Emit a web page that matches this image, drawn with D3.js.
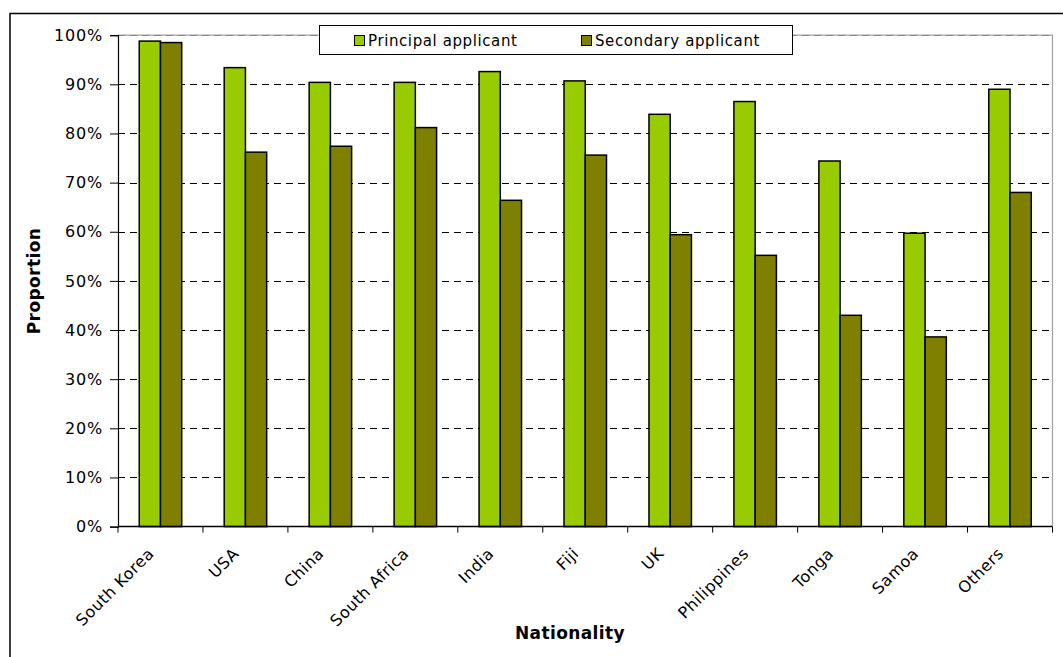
<!DOCTYPE html>
<html>
<head>
<meta charset="utf-8">
<script src="https://cdn.jsdelivr.net/npm/d3@7"></script>
<style>
  html, body { margin: 0; padding: 0; background: #fff; }
  svg { display: block; }
  text { font-family: "DejaVu Sans", Verdana, sans-serif; fill: #000; }
</style>
</head>
<body>
<svg id="chart" width="1063" height="657"></svg>
<script>
// Share of applicants by nationality, principal vs secondary
const nationalities = ["South Korea", "USA", "China", "South Africa", "India", "Fiji", "UK", "Philippines", "Tonga", "Samoa", "Others"];
const principal = [0.988, 0.934, 0.904, 0.904, 0.926, 0.907, 0.839, 0.865, 0.744, 0.597, 0.890];
const secondary = [0.985, 0.762, 0.774, 0.812, 0.664, 0.756, 0.594, 0.552, 0.430, 0.386, 0.680];
const seriesNames = ["Principal applicant", "Secondary applicant"];
const seriesColors = ["#99CC00", "#808000"];
const yTicks = [0, 0.1, 0.2, 0.3, 0.4, 0.5, 0.6, 0.7, 0.8, 0.9, 1.0];

const svg = d3.select("#chart");
const plot = { left: 118, right: 1052.5, top: 35.2, bottom: 526.6 };

const x = d3.scaleBand().domain(nationalities).range([plot.left, plot.right]).padding(0);
const y = d3.scaleLinear().domain([0, 1]).range([plot.bottom, plot.top]);
const bw = x.bandwidth();

// outer chart frame
svg.append("rect")
  .attr("x", 10).attr("y", 13.5).attr("width", 1060).attr("height", 700)
  .attr("fill", "none").attr("stroke", "#000").attr("stroke-width", 1.5);

// plot area frame (top and right)
svg.append("path")
  .attr("d", `M${plot.left},${plot.top}H${plot.right}V${plot.bottom}`)
  .attr("fill", "none").attr("stroke", "#a0a0a0").attr("stroke-width", 1.2);

// horizontal dashed gridlines
svg.append("g").selectAll("line")
  .data(yTicks.filter(d => d > 0))
  .join("line")
  .attr("x1", plot.left).attr("x2", plot.right)
  .attr("y1", d => Math.round(y(d)) + 0.5).attr("y2", d => Math.round(y(d)) + 0.5)
  .attr("stroke", d => d === 1 ? "#888" : "#000")
  .attr("stroke-width", 1)
  .attr("stroke-dasharray", "7,5");

// bars
const groups = svg.append("g").selectAll("g")
  .data(nationalities)
  .join("g");

groups.append("rect")
  .attr("x", d => x(d) + bw * 0.25)
  .attr("width", bw * 0.25)
  .attr("y", (d, i) => y(principal[i]))
  .attr("height", (d, i) => y(0) - y(principal[i]))
  .attr("fill", seriesColors[0])
  .attr("stroke", "#000").attr("stroke-width", 1.5);

groups.append("rect")
  .attr("x", d => x(d) + bw * 0.5)
  .attr("width", bw * 0.25)
  .attr("y", (d, i) => y(secondary[i]))
  .attr("height", (d, i) => y(0) - y(secondary[i]))
  .attr("fill", seriesColors[1])
  .attr("stroke", "#000").attr("stroke-width", 1.5);

// y axis
const yAxis = svg.append("g")
  .attr("transform", `translate(${plot.left},0)`)
  .call(d3.axisLeft(y).tickValues(yTicks).tickFormat(d3.format(".0%")).tickSize(8).tickPadding(7));
yAxis.select(".domain").attr("stroke", "#000").attr("stroke-width", 1.2);
yAxis.selectAll(".tick line").attr("stroke", "#000");
yAxis.selectAll("text")
  .style("font-size", "16px")
  .attr("letter-spacing", "0.8px")
  .attr("fill", "#000");

// x axis with ticks at category boundaries
const xAxis = svg.append("g").attr("transform", `translate(0,${plot.bottom})`);
xAxis.append("line")
  .attr("x1", plot.left).attr("x2", plot.right)
  .attr("y1", 0).attr("y2", 0)
  .attr("stroke", "#000").attr("stroke-width", 1.5);
const bounds = nationalities.map(d => x(d)).concat([plot.right]);
xAxis.selectAll("line.tk")
  .data(bounds)
  .join("line").attr("class", "tk")
  .attr("x1", d => d).attr("x2", d => d)
  .attr("y1", 0).attr("y2", 6)
  .attr("stroke", "#000");

xAxis.selectAll("text.cat")
  .data(nationalities)
  .join("text").attr("class", "cat")
  .attr("transform", d => `translate(${x(d) + bw / 2 - 5.5},${28}) rotate(-45)`)
  .attr("text-anchor", "end")
  .style("font-size", "16px")
  .attr("letter-spacing", "0.5px")
  .text(d => d);

// axis titles
svg.append("text")
  .attr("transform", "translate(40,281) rotate(-90)")
  .attr("text-anchor", "middle")
  .style("font-size", "17px").style("font-weight", "bold")
  .attr("letter-spacing", "0.4px")
  .text("Proportion");

svg.append("text")
  .attr("x", 570).attr("y", 639)
  .attr("text-anchor", "middle")
  .style("font-size", "17px").style("font-weight", "bold")
  .attr("letter-spacing", "0.4px")
  .text("Nationality");

// legend
const legend = svg.append("g");
legend.append("rect")
  .attr("x", 319.5).attr("y", 25.5).attr("width", 473).attr("height", 29)
  .attr("fill", "#fff").attr("stroke", "#000").attr("stroke-width", 1);
const legendX = [354, 581];
seriesNames.forEach((name, i) => {
  legend.append("rect")
    .attr("x", legendX[i] + 0.5).attr("y", 35.5).attr("width", 10).attr("height", 10)
    .attr("fill", seriesColors[i]).attr("stroke", "#000").attr("stroke-width", 1);
  legend.append("text")
    .attr("x", legendX[i] + 14).attr("y", 46)
    .style("font-size", "15px")
    .attr("letter-spacing", "0.6px")
    .text(name);
});
</script>
</body>
</html>
